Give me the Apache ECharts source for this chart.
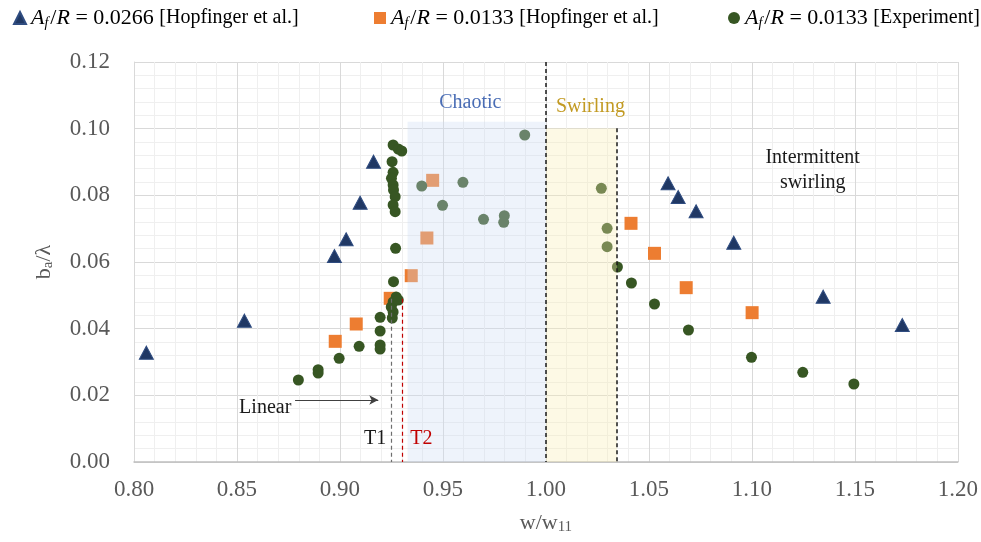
<!DOCTYPE html>
<html>
<head>
<meta charset="utf-8">
<script src="https://cdn.jsdelivr.net/npm/echarts@6/dist/echarts.min.js"></script>
<style>
  html, body { margin: 0; padding: 0; background: #fff; }
  #chart { width: 981px; height: 542px; }
</style>
</head>
<body>
<div id="chart"></div>
<script>
// Axis ticks
const xTicks = [0.80, 0.85, 0.90, 0.95, 1.00, 1.05, 1.10, 1.15, 1.20];
const yTicks = [0.00, 0.02, 0.04, 0.06, 0.08, 0.10, 0.12];

// A_f/R = 0.0266 [Hopfinger et al.]
const hop266X = [0.806, 0.8536, 0.8973, 0.903, 0.9098, 0.9163, 1.0593, 1.0642, 1.0729, 1.0912, 1.1346, 1.173];
const hop266Y = [0.0328, 0.0424, 0.0618, 0.0668, 0.0778, 0.0901, 0.0836, 0.0795, 0.0752, 0.0658, 0.0496, 0.0411];

// A_f/R = 0.0133 [Hopfinger et al.]
const hop133X = [0.8977, 0.9079, 0.9244, 0.9346, 0.9422, 0.945, 1.0413, 1.0527, 1.0681, 1.1001];
const hop133Y = [0.0362, 0.0414, 0.0491, 0.0559, 0.0672, 0.0845, 0.0716, 0.0626, 0.0523, 0.0448];

// A_f/R = 0.0133 [Experiment]
const expX = [0.8798, 0.8894, 0.8894, 0.8996, 0.9093, 0.9195, 0.9195, 0.9195, 0.9195,
              0.9273, 0.9258, 0.9249, 0.9258, 0.9254, 0.9283, 0.926, 0.927,
              0.9258, 0.9283, 0.930, 0.9253, 0.9258, 0.925, 0.9258, 0.926, 0.9268, 0.9258, 0.9268,
              0.9397, 0.9597, 0.9498, 0.9697, 0.9798, 0.9795, 0.9897,
              1.0269, 1.0297, 1.0297,
              1.0347, 1.0415, 1.0527, 1.0692, 1.0998, 1.1247, 1.1495];
const expY = [0.0246, 0.0277, 0.0267, 0.0311, 0.0347, 0.0434, 0.0393, 0.0351, 0.0339,
              0.0495, 0.048, 0.0465, 0.045, 0.0432, 0.0486, 0.0541, 0.0641,
              0.0951, 0.0939, 0.0933, 0.0901, 0.0869, 0.0851, 0.0831, 0.0816, 0.0796, 0.0771, 0.0751,
              0.0828, 0.0839, 0.077, 0.0728, 0.0739, 0.0719, 0.0981,
              0.0821, 0.0701, 0.0646,
              0.0585, 0.0537, 0.0474, 0.0396, 0.0314, 0.0269, 0.0234];

// Regime boundaries
const t1 = 0.925, t2 = 0.93, swirlEnd = 1.0345, chaoticStart = 0.9328;

const zip = (xs, ys) => xs.map((x, i) => [x, ys[i]]);

const NAME_A = 'Af/R = 0.0266 [Hopfinger et al.]';
const NAME_B = 'Af/R = 0.0133 [Hopfinger et al.]';
const NAME_C = 'Af/R = 0.0133 [Experiment]';
const legendText = {
  [NAME_A]: '{i|A}{s|f}{m|/}{i|R}{m| = 0.0266 }{n|[Hopfinger et al.]}',
  [NAME_B]: '{i|A}{s|f}{m|/}{i|R}{m| = 0.0133 }{n|[Hopfinger et al.]}',
  [NAME_C]: '{i|A}{s|f}{m|/}{i|R}{m| = 0.0133 }{n|[Experiment]}'
};

const SERIF = '"Liberation Serif", "DejaVu Serif", serif';
const legendStyle = {
  fontFamily: SERIF, fontSize: 20, color: '#000',
  rich: {
    n: { fontFamily: SERIF, fontSize: 20, color: '#000' },
    m: { fontFamily: SERIF, fontSize: 22, color: '#000' },
    i: { fontFamily: SERIF, fontSize: 22, color: '#000', fontStyle: 'italic' },
    s: { fontFamily: SERIF, fontSize: 14, color: '#000', fontStyle: 'italic', padding: [10, 2, 0, 0] }
  }
};
function makeLegend(name, left, icon) {
  return {
    data: [{ name: name, icon: icon }],
    left: left, top: 2,
    itemWidth: 12, itemHeight: 12, itemGap: 0,
    textStyle: legendStyle,
    formatter: n => legendText[n],
    selectedMode: false
  };
}

const textLabel = (name, x, y, color, size, extra) => Object.assign({
  name: name, coord: [x, y], symbol: 'circle', symbolSize: 0,
  label: { show: true, position: 'inside', formatter: '{b}', color: color,
           fontFamily: SERIF, fontSize: size }
}, extra || {});

const dashed = (x0, y0, x1, y1, color, width) => [
  { coord: [x0, y0], lineStyle: { color: color, width: width, type: [4, 3] } },
  { coord: [x1, y1] }
];

const chart = echarts.init(document.getElementById('chart'), null, { renderer: 'canvas' });
chart.setOption({
  animation: false,
  backgroundColor: '#fff',
  legend: [
    makeLegend(NAME_A, 8, 'triangle'),
    makeLegend(NAME_B, 369, 'rect'),
    makeLegend(NAME_C, 723, 'circle')
  ],
  grid: { left: 134, right: 23, top: 62, bottom: 80 },
  xAxis: {
    type: 'value', min: 0.80, max: 1.20, interval: 0.05,
    name: '{n|w/w}{s|11}',
    nameLocation: 'middle', nameGap: 50,
    nameTextStyle: {
      rich: {
        n: { fontFamily: SERIF, fontSize: 22, color: '#595959' },
        s: { fontFamily: SERIF, fontSize: 15, color: '#595959', padding: [8, 0, 0, 0] }
      }
    },
    axisLine: { show: true, lineStyle: { color: '#bfbfbf', width: 1.5 } },
    axisTick: { show: false },
    axisLabel: {
      margin: 16, fontFamily: SERIF, fontSize: 23, color: '#595959',
      formatter: v => xTicks.find(t => Math.abs(t - v) < 1e-9).toFixed(2)
    },
    splitLine: { show: true, lineStyle: { color: '#d9d9d9', width: 1 } },
    minorTick: { show: false, splitNumber: 5 },
    minorSplitLine: { show: true, lineStyle: { color: '#efefef', width: 1 } }
  },
  yAxis: {
    type: 'value', min: 0, max: 0.12, interval: 0.02,
    name: '{n|b}{s|a}{n|/λ}',
    nameLocation: 'middle', nameGap: 78, nameRotate: 90,
    nameTextStyle: {
      rich: {
        n: { fontFamily: SERIF, fontSize: 22, color: '#595959' },
        s: { fontFamily: SERIF, fontSize: 15, color: '#595959', padding: [8, 0, 0, 0] }
      }
    },
    axisLine: { show: true, lineStyle: { color: '#d9d9d9', width: 1 } },
    axisTick: { show: false },
    axisLabel: {
      margin: 24, fontFamily: SERIF, fontSize: 23, color: '#595959',
      formatter: v => yTicks.find(t => Math.abs(t - v) < 1e-9).toFixed(2)
    },
    splitLine: { show: true, lineStyle: { color: '#d9d9d9', width: 1 } },
    minorTick: { show: false, splitNumber: 5 },
    minorSplitLine: { show: true, lineStyle: { color: '#efefef', width: 1 } }
  },
  series: [
    {
      name: NAME_A, type: 'scatter', z: 2,
      data: zip(hop266X, hop266Y),
      symbol: 'triangle', symbolSize: [14, 13],
      itemStyle: { color: '#203864', opacity: 1, borderColor: '#2f4c80', borderWidth: 1 }
    },
    {
      name: NAME_B, type: 'scatter', z: 2,
      data: zip(hop133X, hop133Y),
      symbol: 'rect', symbolSize: 13,
      itemStyle: { color: '#ed7d31', opacity: 1 }
    },
    {
      name: NAME_C, type: 'scatter', z: 2,
      data: zip(expX, expY),
      symbol: 'circle', symbolSize: 11,
      itemStyle: { color: '#375623', opacity: 1 }
    },
    {
      // Translucent regime bands laid over the points
      name: 'regimes', type: 'scatter', data: [], z: 3,
      markArea: {
        silent: true, z: 3,
        data: [
          [{ coord: [chaoticStart, 0], itemStyle: { color: 'rgba(206,219,242,0.34)' } },
           { coord: [1.0, 0.1021] }],
          [{ coord: [1.0, 0], itemStyle: { color: 'rgba(249,236,180,0.34)' } },
           { coord: [swirlEnd, 0.1001] }]
        ]
      }
    },
    {
      // Threshold lines, arrow and annotations
      name: 'annotations', type: 'scatter', data: [], z: 6,
      markLine: {
        silent: true, z: 6,
        symbol: ['none', 'none'],
        label: { show: false },
        data: [
          dashed(1.0, 0.12, 1.0, 0, '#1a1a1a', 1.5),
          dashed(swirlEnd, 0.1001, swirlEnd, 0, '#1a1a1a', 1.5),
          dashed(t1, 0.049, t1, 0, '#6e6e6e', 1.2),
          dashed(t2, 0.049, t2, 0, '#c00000', 1.2),
          [
            { coord: [0.8782, 0.0186], lineStyle: { color: '#404040', width: 1.2, type: 'solid' } },
            { coord: [0.9186, 0.0186], symbol: 'arrow', symbolSize: [7, 9] }
          ]
        ]
      },
      markPoint: {
        silent: true, z: 6,
        data: [
          textLabel('Chaotic', 0.9633, 0.1077, '#4a6db5', 20),
          textLabel('Swirling', 1.0216, 0.1065, '#c29a22', 20),
          textLabel('Intermittent\nswirling', 1.1295, 0.0876, '#1a1a1a', 20,
                    { label: { show: true, position: 'inside', formatter: '{b}', color: '#1a1a1a',
                               fontFamily: SERIF, fontSize: 20, lineHeight: 25, align: 'center' } }),
          textLabel('Linear', 0.8637, 0.0162, '#1a1a1a', 20),
          textLabel('T1', 0.9171, 0.0069, '#1a1a1a', 20),
          textLabel('T2', 0.9395, 0.0069, '#c00000', 20)
        ]
      }
    }
  ]
});
</script>
</body>
</html>
